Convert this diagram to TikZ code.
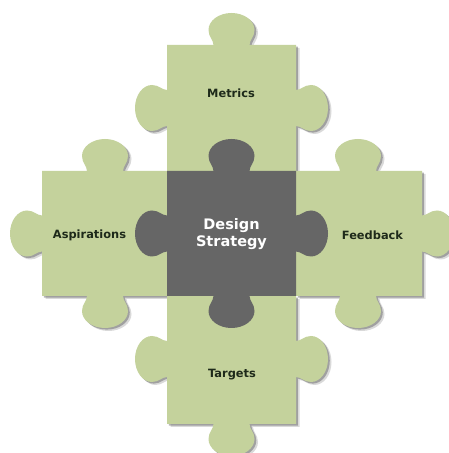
\documentclass[tikz,border=0pt]{standalone}
\usepackage{fontspec}
\setmainfont{DejaVu Sans}
\definecolor{piecegreen}{HTML}{C4D29C}
\definecolor{piecegray}{HTML}{666666}
\definecolor{labeldark}{HTML}{1E2A1A}
\newcommand\knobshape{(-18,-1) -- (-18,0) .. controls (-18,5) and (-23,8) .. (-23,15) .. controls (-23,24.4) and (-12.7,32) .. (0,32) .. controls (12.7,32) and (23,24.4) .. (23,15) .. controls (23,8) and (18,5) .. (18,0) -- (18,-1) -- cycle}
\newcommand\knobat[3]{{[shift={(#1,#2)},rotate=#3] \knobshape}}
\newcommand\metricspath{(167,282) rectangle (296,408) \knobat{231.5}{408}{0} \knobat{167}{345}{90} \knobat{296}{345}{-90}}
\newcommand\targetspath{(167,29) rectangle (296,157) \knobat{167}{94}{90} \knobat{296}{94}{-90} \knobat{231.5}{29}{180}}
\newcommand\aspirpath{(42,157) rectangle (167,282) \knobat{105}{282}{0} \knobat{105}{157}{180} \knobat{42}{219.5}{90}}
\newcommand\feedpath{(296,157) rectangle (422,282) \knobat{358}{282}{0} \knobat{358}{157}{180} \knobat{422}{219.5}{-90}}
\newcommand\centerpath{(167,157) rectangle (296,282) \knobat{231.5}{282}{0} \knobat{231.5}{157}{180} \knobat{167}{219.5}{90} \knobat{296}{219.5}{-90}}
\tikzset{
  shadowfar/.style={fill=black, opacity=0.15},
  shadownear/.style={fill=black!70, opacity=0.4},
  greenpiece/.style={fill=piecegreen},
  graypiece/.style={fill=piecegray},
  label/.style={font=\bfseries\fontsize{11.4}{13}\selectfont, text=labeldark, inner sep=0pt},
  centerlabel/.style={font=\bfseries\fontsize{14.5}{17}\selectfont, text=white, align=center, inner sep=0pt}
}
\begin{document}
\begin{tikzpicture}[x=1pt,y=1pt]
\useasboundingbox (0,0) rectangle (449,453);
\clip (0,0) rectangle (449,453);
\fill[white] (0,0) rectangle (449,453);
% shadows
\begin{scope}[shift={(3.5,-3)}]
  \path[shadowfar] \metricspath;
  \path[shadowfar] \targetspath;
  \path[shadowfar] \aspirpath;
  \path[shadowfar] \feedpath;
\end{scope}
\begin{scope}[shift={(1.8,-1.6)}]
  \path[shadownear] \metricspath;
  \path[shadownear] \targetspath;
  \path[shadownear] \aspirpath;
  \path[shadownear] \feedpath;
\end{scope}
% pieces
\path[greenpiece] \metricspath;
\path[greenpiece] \targetspath;
\path[greenpiece] \aspirpath;
\path[greenpiece] \feedpath;
\path[graypiece] \centerpath;
% labels
\node[label] (metrics) at (231,360) {Metrics};
\node[label] (aspirations) at (89.5,218) {Aspirations};
\node[label] (feedback) at (372.5,218) {Feedback};
\node[label] (targets) at (232,78) {Targets};
\node[centerlabel] (design) at (231.5,218.5) {Design\\Strategy};
\end{tikzpicture}
\end{document}
